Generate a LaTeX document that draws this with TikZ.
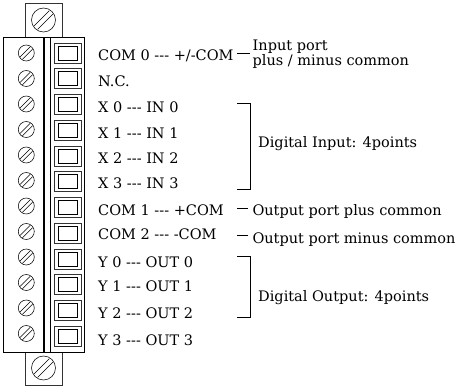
\documentclass[tikz,border=0pt]{standalone}
\usepackage{fontspec}
\setmainfont{DejaVu Serif}[Ligatures=NoCommon]
\tikzset{
 lab/.style={anchor=base west,inner sep=0pt,font=\fontsize{14.5}{15}\selectfont},
 ln/.style={draw=black,line width=0.9pt},
 thin box/.style={draw=black!80,line width=0.8pt},
}
\newcommand{\screw}[3]{%
 \draw[line width=0.55pt] (#1,#2) circle (#3);
 \draw[line width=0.55pt] ({#1-0.78*#3},{#2+0.48*#3}) -- ({#1+0.48*#3},{#2-0.78*#3});
 \draw[line width=0.55pt] ({#1-0.48*#3},{#2+0.78*#3}) -- ({#1+0.78*#3},{#2-0.48*#3});
}
\newcommand{\dd}{-{}-{}-}
\begin{document}
\begin{tikzpicture}[x=1pt,y=-1pt]
\useasboundingbox[fill=white] (0,0) rectangle (458,387);
\draw[thin box] (25,3.5) rectangle (62,37.5);
\draw[thin box] (25,352) rectangle (62,385);
\draw[ln] (3.5,37.5) rectangle (84,352);
\draw[line width=1.4pt] (44,37.5) -- (44,352);
\draw[line width=1.1pt] (50.5,37.5) -- (50.5,352);
\screw{43.5}{20}{12}
\screw{43.5}{368}{12}
\foreach \i in {0,...,11} {
  \pgfmathsetmacro{\ys}{53+25.5*\i}
  \pgfmathsetmacro{\yb}{53+25.75*\i}
  \screw{26.3}{\ys}{8}
  \draw[thin box] (54,\yb-10) rectangle (81.5,\yb+10);
  \draw[ln] (58.5,\yb-7) rectangle (77.5,\yb+7);
}
\node[lab] (t0) at (98,61) {COM 0 \dd{} +/-COM};
\node[lab] (t1) at (98,86.7) {N.C.};
\node[lab] (t2) at (98,112.5) {X 0 \dd{} IN 0};
\node[lab] (t3) at (98,138.3) {X 1 \dd{} IN 1};
\node[lab] (t4) at (98,163.5) {X 2 \dd{} IN 2};
\node[lab] (t5) at (98,189) {X 3 \dd{} IN 3};
\node[lab] (t6) at (98,216) {COM 1 \dd{} +COM};
\node[lab] (t7) at (98,240) {COM 2 \dd{} -COM};
\node[lab] (t8) at (98,268) {Y 0 \dd{} OUT 0};
\node[lab] (t9) at (98,292) {Y 1 \dd{} OUT 1};
\node[lab] (t10) at (98,319) {Y 2 \dd{} OUT 2};
\node[lab] (t11) at (98,345.7) {Y 3 \dd{} OUT 3};
\node[lab] (a) at (252.5,50.7) {Input port};
\node[lab] (b) at (252.5,66) {plus / minus common};
\node[lab] (c) at (258,147.7) {Digital Input: 4points};
\node[lab] (d) at (252.3,216) {Output port plus common};
\node[lab] (e) at (252.3,243.3) {Output port minus common};
\node[lab] (f) at (258,301.7) {Digital Output: 4points};
\coordinate (p1) at (237,53.5); \coordinate (p2) at (250,53.5);
\draw[ln] (p1) -- (p2);
\coordinate (q1) at (237,208.3); \coordinate (q2) at (248,208.3);
\draw[ln] (q1) -- (q2);
\coordinate (r1) at (237,235.7); \coordinate (r2) at (248,235.7);
\draw[ln] (r1) -- (r2);
\draw[ln] (237,103.5) -| (250,189.7) -- (237,189.7);
\draw[ln] (237,256.7) -| (250,317) -- (237,317);
\end{tikzpicture}
\end{document}
